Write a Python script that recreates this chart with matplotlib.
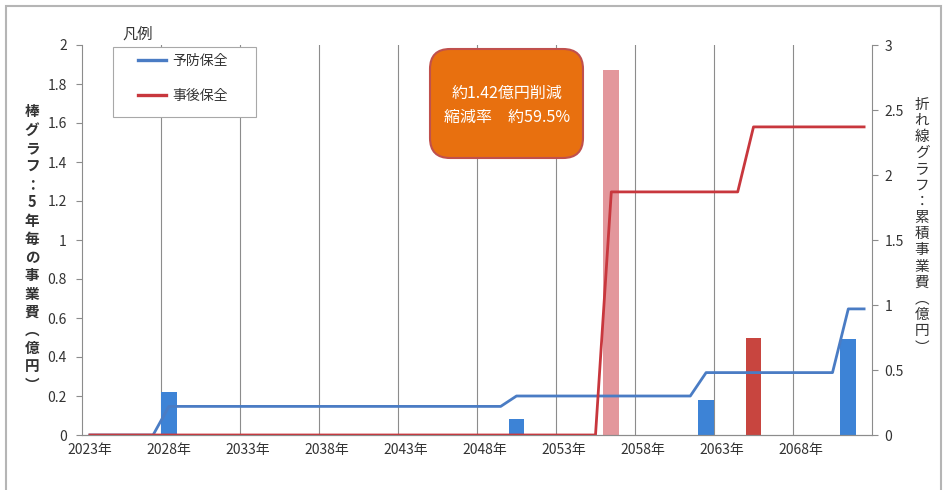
import matplotlib
matplotlib.use("Agg")
import matplotlib.pyplot as plt
import numpy as np
from matplotlib.lines import Line2D
from matplotlib.patches import FancyBboxPatch, Rectangle
from matplotlib.transforms import IdentityTransform

plt.rcParams["font.family"] = ["Noto Sans CJK JP", "DejaVu Sans"]

# 年度(カテゴリ)と目盛ラベル
years = np.arange(2023, 2073)
tick_years = list(range(2023, 2069, 5))
tick_labels = [f"{y}年" for y in tick_years]

# 予防保全：5年毎の事業費(億円)
prev_years = [2028, 2050, 2062, 2071]
prev_costs = [0.22, 0.08, 0.18, 0.49]

# 事後保全：5年毎の事業費(億円)
corr_years = [2056, 2065]
corr_costs = [1.87, 0.50]

left_ticks = [0, 0.2, 0.4, 0.6, 0.8, 1, 1.2, 1.4, 1.6, 1.8, 2]
right_ticks = [0, 0.5, 1, 1.5, 2, 2.5, 3]

W, H = 946, 490
BLUE_BAR = "#3D83D6"
BLUE_LINE = "#4A7CC4"
RED_LINE = "#C8373D"
corr_colors = ["#E3979C", "#C8453F"]
GRID = "#8C8C8C"
TXT = "#333333"


def cumulative(bar_years, bar_costs):
    # 年毎の事業費を並べて累積事業費にする
    per_year = np.zeros(len(years))
    for y, c in zip(bar_years, bar_costs):
        per_year[years == y] = c
    return np.cumsum(per_year)


fig = plt.figure(figsize=(W / 100, H / 100), dpi=100)
ax = fig.add_axes([82 / W, 55 / H, 790 / W, 390 / H])
ax2 = ax.twinx()

ax.bar(prev_years, prev_costs, width=1.0, color=BLUE_BAR, zorder=2)
ax.bar(corr_years, corr_costs, width=1.0, color=corr_colors, zorder=2)

# 事後保全の線を後に描いて上に重ねる
ax2.plot(years, cumulative(prev_years, prev_costs), color=BLUE_LINE, lw=2.0)
ax2.plot(years, cumulative(corr_years, corr_costs), color=RED_LINE, lw=2.0)

ax.set_xlim(2022.5, 2072.5)
ax.set_ylim(0, 2)
ax2.set_ylim(0, 3)

ax.set_xticks(tick_years)
ax.set_xticklabels(tick_labels)
ax.set_xticks(np.arange(2027.5, 2072, 5), minor=True)
ax.tick_params(axis="x", which="both", length=0, pad=6, labelsize=10, labelcolor=TXT)
ax.grid(True, axis="x", which="minor", color=GRID, lw=0.8)
ax.set_axisbelow(True)

ax.set_yticks(left_ticks)
ax.set_yticklabels([f"{v:g}" for v in left_ticks])
ax.tick_params(axis="y", length=4, width=0.8, color=GRID, pad=7, labelsize=10, labelcolor=TXT)
ax2.set_yticks(right_ticks)
ax2.set_yticklabels([f"{v:g}" for v in right_ticks])
ax2.tick_params(axis="y", length=4, width=0.8, color=GRID, pad=5, labelsize=10, labelcolor=TXT)

for a in (ax, ax2):
    a.spines["top"].set_visible(False)
    for s in ("left", "right", "bottom"):
        a.spines[s].set_color(GRID)
        a.spines[s].set_linewidth(0.8)
ax.spines["right"].set_visible(False)
ax2.spines["left"].set_visible(False)

# 縦書きの軸ラベル
left_label = "棒グラフ：5年毎の事業費︵億円︶"
right_label = "折れ線グラフ：累積事業費︵億円︶"
fig.text(32 / W, 1 - 248 / H, "\n".join(left_label), ha="center", va="center",
         fontsize=10.5, fontweight="bold", color=TXT, linespacing=1.17)
fig.text(922 / W, 1 - 226 / H, "\n".join(right_label), ha="center", va="center",
         fontsize=10.5, color=TXT, linespacing=1.2)

# 凡例
fig.text(122 / W, 1 - 34 / H, "凡例", ha="left", va="center", fontsize=11, color=TXT)
fig.patches.append(Rectangle((113 / W, 1 - 117 / H), 143 / W, 70 / H,
                             transform=fig.transFigure, facecolor="white",
                             edgecolor="#A8A8A8", lw=0.8, zorder=4))
handles = [Line2D([], [], color=BLUE_LINE, lw=2.4), Line2D([], [], color=RED_LINE, lw=2.4)]
fig.legend(handles, ["予防保全", "事後保全"], loc="upper left",
           bbox_to_anchor=(138 / W, 1 - 54 / H), frameon=False, borderpad=0,
           borderaxespad=0, handlelength=2.0, handletextpad=0.5,
           labelspacing=1.5, fontsize=10, labelcolor=TXT).set_zorder(5)

# 削減額の吹き出し
box = FancyBboxPatch((430, H - 158), 153, 109, boxstyle="round,pad=0,rounding_size=20",
                     transform=IdentityTransform(), facecolor="#E8700F",
                     edgecolor="#C0504D", lw=1.5, zorder=6)
fig.patches.append(box)
fig.text(507 / W, 1 - 93 / H, "約1.42億円削減", ha="center", va="center",
         fontsize=11.5, color="white", zorder=7)
fig.text(507 / W, 1 - 117 / H, "縮減率　約59.5%", ha="center", va="center",
         fontsize=11.5, color="white", zorder=7)

# 外枠
fig.patches.append(Rectangle((6, -5), 935, H - 1, transform=IdentityTransform(),
                             fill=False, edgecolor="#B5B5B5", lw=1.5, zorder=8))

fig.savefig("out.png", dpi=100)
